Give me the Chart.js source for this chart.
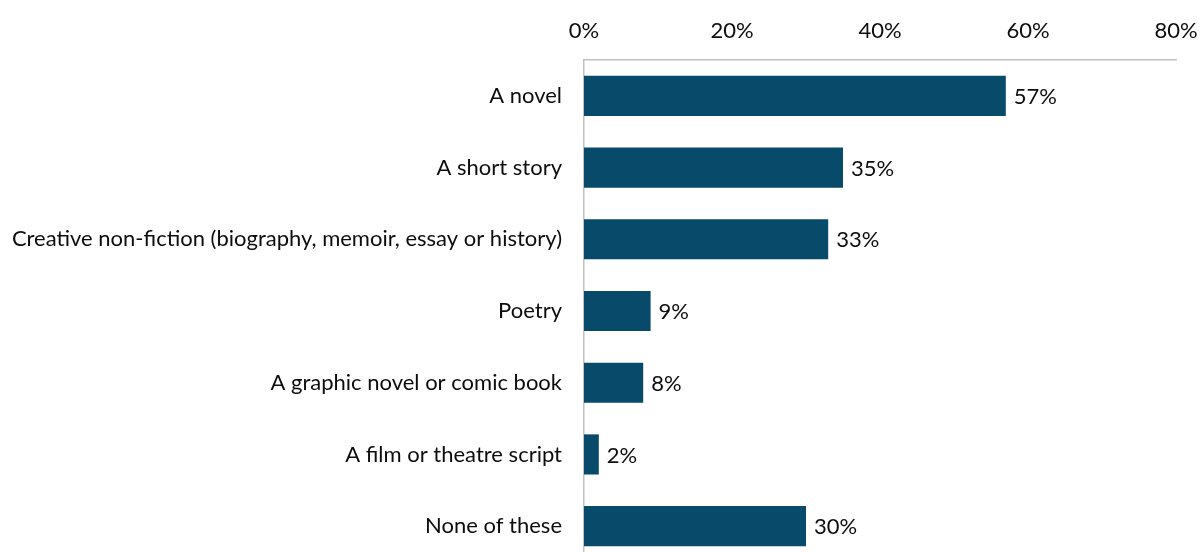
<!DOCTYPE html>
<html>
<head>
<meta charset="utf-8">
<script src="https://cdn.jsdelivr.net/npm/chart.js@4/dist/chart.umd.min.js"></script>
<style>
  html, body { margin: 0; padding: 0; background: #fff; overflow: hidden; }
  canvas { display: block; }
</style>
</head>
<body>
<canvas id="chart" width="1200" height="562"></canvas>
<script>
var categories = [
  'A novel',
  'A short story',
  'Creative non-fiction (biography, memoir, essay or history)',
  'Poetry',
  'A graphic novel or comic book',
  'A film or theatre script',
  'None of these'
];
var shares = [57, 35, 33, 9, 8, 2, 30];
var tickValues = [0, 20, 40, 60, 80];

var barColour = '#084a6a';
var fontFamily = 'Lato, "Open Sans", sans-serif';
var fontSize = 22;

// draw the % value just past the end of each bar
var valueLabels = {
  id: 'valueLabels',
  afterDatasetsDraw: function(chart){
    var ctx = chart.ctx;
    var meta = chart.getDatasetMeta(0);
    ctx.save();
    ctx.font = fontSize + 'px ' + fontFamily;
    ctx.fillStyle = '#0d0d0d';
    ctx.textAlign = 'left';
    ctx.textBaseline = 'middle';
    meta.data.forEach(function(bar, i){
      ctx.fillText(shares[i] + '%', bar.x + 8, bar.y + 1);
    });
    ctx.restore();
  }
};

new Chart(document.getElementById('chart'), {
  type: 'bar',
  data: {
    labels: categories,
    datasets: [{
      data: shares,
      backgroundColor: barColour,
      borderWidth: 0,
      categoryPercentage: 0.56,
      barPercentage: 1
    }]
  },
  options: {
    indexAxis: 'y',
    responsive: false,
    animation: false,
    layout: { padding: { top: 0, right: 24, bottom: 0, left: 0 } },
    plugins: { legend: { display: false }, tooltip: { enabled: false } },
    scales: {
      x: {
        position: 'top',
        min: 0,
        max: 80,
        afterBuildTicks: function(axis){
          axis.ticks = tickValues.map(function(v){ return {value: v}; });
        },
        afterFit: function(axis){
          axis.height = 60;
          axis.paddingRight = 0;
        },
        grid: { display: false, drawTicks: false },
        border: { display: true, color: '#c0c0c0', width: 1.5 },
        ticks: {
          padding: 16,
          color: '#0d0d0d',
          font: { family: fontFamily, size: fontSize },
          callback: function(v){ return v + '%'; }
        }
      },
      y: {
        afterFit: function(axis){
          axis.width = 584;
          // no extra room for the first/last label, the plot runs off the bottom
          axis.paddingTop = 0;
          axis.paddingBottom = 0;
        },
        grid: { display: false, drawTicks: false },
        border: { display: true, color: '#c0c0c0', width: 1.5 },
        ticks: {
          padding: 22,
          color: '#0d0d0d',
          font: { family: fontFamily, size: fontSize }
        }
      }
    }
  },
  plugins: [valueLabels]
});
</script>
</body>
</html>
